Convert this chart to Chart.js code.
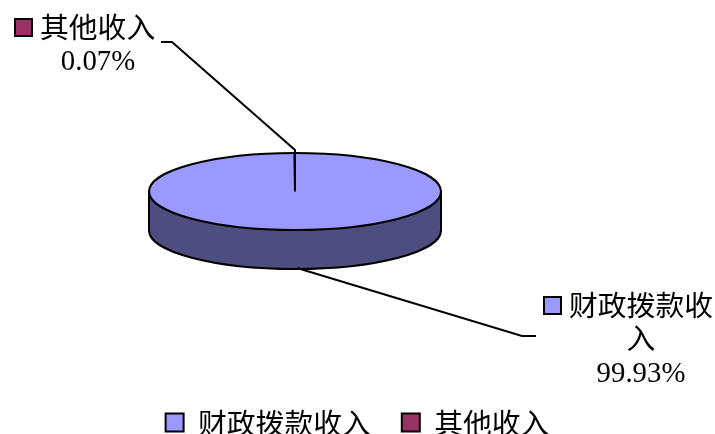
<!DOCTYPE html>
<html>
<head>
<meta charset="utf-8">
<style>
  html, body { margin: 0; padding: 0; background: #fff; overflow: hidden; }
  canvas { display: block; }
</style>
<script src="https://cdn.jsdelivr.net/npm/chart.js@4"></script>
</head>
<body>
<canvas id="grafico" width="715" height="434"></canvas>
<script>
var categorias = ['财政拨款收入', '其他收入'];
var valores = [99.93, 0.07];
var colores = ['#9999FF', '#993366'];

var fuenteCJK = '28.8px "Noto Sans CJK SC"';
var fuenteNum = '28.8px "Liberation Serif"';

// Centro y forma del pastel en pantalla
var centroX = 295;
var centroY = 191.5;
var aplanado = 0.264;
var grosor = 39;

function cuadro(ctx, x, y, color) {
    ctx.fillStyle = color;
    ctx.strokeStyle = '#000';
    ctx.lineWidth = 2;
    ctx.fillRect(x, y, 17, 17);
    ctx.strokeRect(x, y, 17, 17);
}

function linea(ctx, puntos) {
    ctx.beginPath();
    ctx.moveTo(puntos[0][0], puntos[0][1]);
    for (var i = 1; i < puntos.length; i++) {
        ctx.lineTo(puntos[i][0], puntos[i][1]);
    }
    ctx.strokeStyle = '#000';
    ctx.lineWidth = 2;
    ctx.stroke();
}

var pastel3d = {
    id: 'pastel3d',
    afterLayout: function (chart) {
        // La leyenda va pegada al borde inferior
        chart.legend.top += 13;
    },
    beforeDatasetsDraw: function (chart) {
        var ctx = chart.ctx;
        var arcos = chart.getDatasetMeta(0).data;
        var r = arcos[0].outerRadius;
        var ry = r * aplanado;

        // Lateral
        ctx.save();
        ctx.beginPath();
        ctx.moveTo(centroX - r, centroY);
        ctx.lineTo(centroX - r, centroY + grosor);
        ctx.ellipse(centroX, centroY + grosor, r, ry, 0, Math.PI, 0, true);
        ctx.lineTo(centroX + r, centroY);
        ctx.closePath();
        ctx.fillStyle = '#4D4D80';
        ctx.fill();
        ctx.strokeStyle = '#000';
        ctx.lineWidth = 2;
        ctx.stroke();
        ctx.restore();

        // Cara superior, dibujada por los propios arcos
        arcos.forEach(function (arco) {
            ctx.save();
            ctx.translate(centroX, centroY);
            ctx.scale(1, aplanado);
            ctx.translate(-arco.x, -arco.y);
            arco.draw(ctx);
            ctx.restore();
        });

        ctx.beginPath();
        ctx.ellipse(centroX, centroY, r, ry, 0, 0, Math.PI * 2);
        ctx.strokeStyle = '#000';
        ctx.lineWidth = 2;
        ctx.stroke();

        // Porción mínima
        var angulo = arcos[1].startAngle;
        linea(ctx, [
            [centroX, centroY],
            [centroX + r * Math.cos(angulo), centroY + ry * Math.sin(angulo)]
        ]);
        return false;
    },
    afterDraw: function (chart) {
        var ctx = chart.ctx;
        ctx.save();

        // Líneas guía
        linea(ctx, [[161, 42], [172, 42], [295, 150], [295, 191]]);
        linea(ctx, [[297, 268], [522, 336], [536, 336]]);

        ctx.textBaseline = 'middle';
        ctx.fillStyle = '#000';

        // Etiqueta de otros ingresos
        cuadro(ctx, 15, 19, colores[1]);
        ctx.font = fuenteCJK;
        ctx.textAlign = 'left';
        ctx.fillStyle = '#000';
        ctx.fillText(categorias[1], 40, 27);
        ctx.font = fuenteNum;
        ctx.textAlign = 'center';
        ctx.fillText(valores[1].toFixed(2) + '%', 98, 62);

        // Etiqueta de financiación, partida en dos líneas como el original
        cuadro(ctx, 544, 297, colores[0]);
        ctx.font = fuenteCJK;
        ctx.textAlign = 'left';
        ctx.fillStyle = '#000';
        ctx.fillText(categorias[0].slice(0, 5), 569, 305);
        ctx.textAlign = 'center';
        ctx.fillText(categorias[0].slice(5), 641, 338);
        ctx.font = fuenteNum;
        ctx.fillText(valores[0].toFixed(2) + '%', 641, 374);

        ctx.restore();
    }
};

new Chart(document.getElementById('grafico').getContext('2d'), {
    type: 'pie',
    data: {
        labels: categorias,
        datasets: [{
            data: valores,
            backgroundColor: colores,
            borderWidth: 0,
            radius: 146
        }]
    },
    options: {
        responsive: false,
        animation: false,
        plugins: {
            tooltip: { enabled: false },
            legend: {
                position: 'bottom',
                labels: {
                    boxWidth: 18,
                    boxHeight: 18,
                    padding: 31,
                    color: '#000',
                    font: { family: '"Noto Sans CJK SC"', size: 28.8 },
                    generateLabels: function (chart) {
                        var items = Chart.overrides.pie.plugins.legend.labels.generateLabels(chart);
                        items.forEach(function (item) {
                            item.strokeStyle = '#000';
                            item.lineWidth = 2;
                        });
                        return items;
                    }
                }
            }
        }
    },
    plugins: [pastel3d]
});
</script>
</body>
</html>
